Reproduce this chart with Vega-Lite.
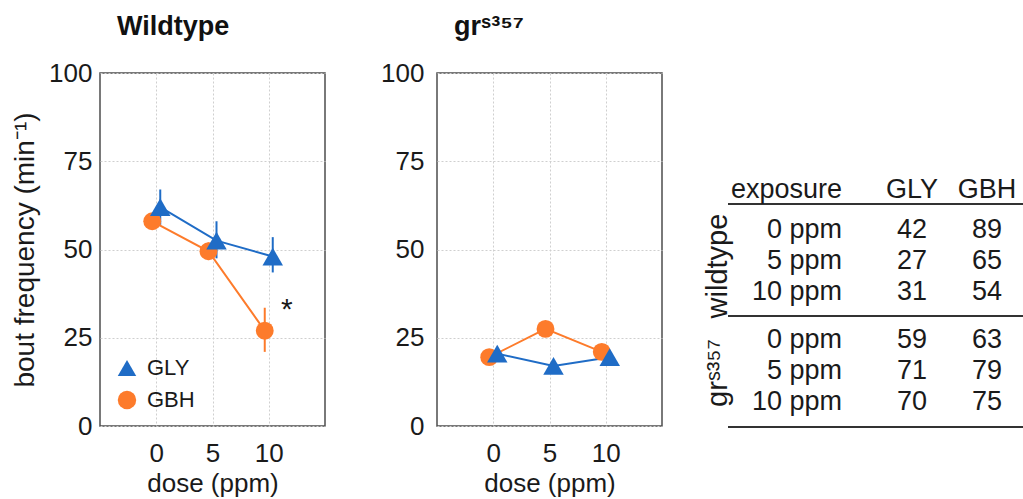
{
  "$schema": "https://vega.github.io/schema/vega-lite/v6.json",
  "padding": {"left": 10, "top": 12, "right": 0, "bottom": 0},
  "background": "white",
  "config": {
    "font": "Liberation Sans",
    "view": {"stroke": "#4d4d4d", "strokeWidth": 1.5},
    "axis": {
      "domain": false, "ticks": false, "grid": true,
      "gridColor": "#cfcfcf", "gridDash": [2, 2], "gridWidth": 1,
      "labelFont": "Liberation Sans", "labelFontSize": 26, "labelColor": "#1a1a1a",
      "titleFont": "Liberation Sans", "titleFontSize": 26, "titleFontWeight": "normal", "titleColor": "#1a1a1a"
    },
    "axisX": {"labelPadding": 14, "titlePadding": 4},
    "title": {"font": "Liberation Sans", "fontSize": 27, "fontWeight": "bold", "color": "#111111", "anchor": "start", "frame": "group", "dx": 17, "offset": 19},
    "legend": {"labelFont": "Liberation Sans", "labelFontSize": 22, "labelColor": "#1a1a1a", "symbolSize": 340, "symbolStrokeWidth": 0, "rowPadding": 10, "labelOffset": 9}
  },
  "datasets": {
    "wt": [
      {"compound": "GLY", "dose": 0, "freq": 62, "lo": 57, "hi": 67},
      {"compound": "GLY", "dose": 5, "freq": 52.5, "lo": 47.5, "hi": 58},
      {"compound": "GLY", "dose": 10, "freq": 48, "lo": 43.5, "hi": 53.5},
      {"compound": "GBH", "dose": 0, "freq": 58, "lo": 56, "hi": 60},
      {"compound": "GBH", "dose": 5, "freq": 49.5, "lo": 47, "hi": 52},
      {"compound": "GBH", "dose": 10, "freq": 27, "lo": 21, "hi": 33.5}
    ],
    "gr": [
      {"compound": "GLY", "dose": 0, "freq": 20.5},
      {"compound": "GLY", "dose": 5, "freq": 17},
      {"compound": "GLY", "dose": 10, "freq": 19.5},
      {"compound": "GBH", "dose": 0, "freq": 19.5},
      {"compound": "GBH", "dose": 5, "freq": 27.5},
      {"compound": "GBH", "dose": 10, "freq": 21}
    ],
    "table": [
      {"row": 0, "col": 1, "label": "exposure"},
      {"row": 0, "col": 2, "label": "GLY"},
      {"row": 0, "col": 3, "label": "GBH"},
      {"row": 1.3, "col": 1, "label": "0 ppm"},
      {"row": 1.3, "col": 2, "label": "42"},
      {"row": 1.3, "col": 3, "label": "89"},
      {"row": 2.3, "col": 1, "label": "5 ppm"},
      {"row": 2.3, "col": 2, "label": "27"},
      {"row": 2.3, "col": 3, "label": "65"},
      {"row": 3.3, "col": 1, "label": "10 ppm"},
      {"row": 3.3, "col": 2, "label": "31"},
      {"row": 3.3, "col": 3, "label": "54"},
      {"row": 4.85, "col": 1, "label": "0 ppm"},
      {"row": 4.85, "col": 2, "label": "59"},
      {"row": 4.85, "col": 3, "label": "63"},
      {"row": 5.85, "col": 1, "label": "5 ppm"},
      {"row": 5.85, "col": 2, "label": "71"},
      {"row": 5.85, "col": 3, "label": "79"},
      {"row": 6.85, "col": 1, "label": "10 ppm"},
      {"row": 6.85, "col": 2, "label": "70"},
      {"row": 6.85, "col": 3, "label": "75"}
    ],
    "groups": [
      {"row": 2.55, "col": 0, "label": "wildtype"},
      {"row": 6.0, "col": 0, "label": "grˢ³⁵⁷"}
    ],
    "lines": [
      {"row": 0.55, "start": 0, "end": 1},
      {"row": 4.16, "start": 0, "end": 1},
      {"row": 7.74, "start": 0, "end": 1}
    ]
  },
  "bounds": "flush",
  "spacing": 112,
  "resolve": {"scale": {"color": "independent", "shape": "independent"}},
  "hconcat": [
    {
      "width": 225,
      "height": 353,
      "title": {"text": "Wildtype"},
      "encoding": {
        "x": {"field": "dose", "type": "quantitative", "scale": {"domain": [-5, 15], "nice": false, "zero": false}, "axis": {"values": [0, 5, 10], "title": "dose (ppm)"}},
        "y": {"field": "freq", "type": "quantitative", "scale": {"domain": [0, 100], "nice": false}, "axis": {"values": [0, 25, 50, 75, 100], "labelPadding": 8, "titlePadding": 9, "titleFontSize": 28}, "title": "bout frequency (min⁻¹)"}
      },
      "layer": [
        {
          "data": {"name": "wt"},
          "transform": [{"filter": "datum.compound === 'GBH'"}],
          "mark": {"type": "rule", "color": "#fd7b2b", "strokeWidth": 2, "xOffset": -4},
          "encoding": {"y": {"field": "lo", "type": "quantitative", "title": "bout frequency (min⁻¹)"}, "y2": {"field": "hi"}}
        },
        {
          "data": {"name": "wt"},
          "transform": [{"filter": "datum.compound === 'GLY'"}],
          "mark": {"type": "rule", "color": "#1f6cc6", "strokeWidth": 2, "xOffset": 4},
          "encoding": {"y": {"field": "lo", "type": "quantitative", "title": "bout frequency (min⁻¹)"}, "y2": {"field": "hi"}}
        },
        {
          "data": {"name": "wt"},
          "transform": [{"filter": "datum.compound === 'GBH'"}],
          "mark": {"type": "line", "color": "#fd7b2b", "strokeWidth": 2, "xOffset": -4},
          "encoding": {}
        },
        {
          "data": {"name": "wt"},
          "transform": [{"filter": "datum.compound === 'GLY'"}],
          "mark": {"type": "line", "color": "#1f6cc6", "strokeWidth": 2, "xOffset": 4},
          "encoding": {}
        },
        {
          "data": {"name": "wt"},
          "transform": [{"filter": "datum.compound === 'GBH'"}],
          "mark": {"type": "point", "filled": true, "opacity": 1, "size": 320, "xOffset": -4},
          "encoding": {
            "color": {"field": "compound", "type": "nominal", "scale": {"domain": ["GLY", "GBH"], "range": ["#1f6cc6", "#fd7b2b"]}, "legend": {"title": null, "orient": "none", "legendX": 16, "legendY": 284}},
            "shape": {"field": "compound", "type": "nominal", "scale": {"domain": ["GLY", "GBH"], "range": ["triangle-up", "circle"]}, "legend": {"title": null, "orient": "none", "legendX": 16, "legendY": 284}}
          }
        },
        {
          "data": {"name": "wt"},
          "transform": [{"filter": "datum.compound === 'GLY'"}],
          "mark": {"type": "point", "filled": true, "opacity": 1, "size": 420, "xOffset": 4},
          "encoding": {
            "color": {"field": "compound", "type": "nominal", "scale": {"domain": ["GLY", "GBH"], "range": ["#1f6cc6", "#fd7b2b"]}, "legend": {"title": null, "orient": "none", "legendX": 16, "legendY": 284}},
            "shape": {"field": "compound", "type": "nominal", "scale": {"domain": ["GLY", "GBH"], "range": ["triangle-up", "circle"]}, "legend": {"title": null, "orient": "none", "legendX": 16, "legendY": 284}}
          }
        },
        {
          "data": {"values": [{"dose": 11.6, "freq": 33, "label": "*"}]},
          "mark": {"type": "text", "fontSize": 30, "color": "#1a1a1a", "align": "center", "baseline": "middle"},
          "encoding": {"text": {"field": "label"}}
        }
      ]
    },
    {
      "width": 225,
      "height": 353,
      "title": {"text": "grˢ³⁵⁷"},
      "data": {"name": "gr"},
      "encoding": {
        "x": {"field": "dose", "type": "quantitative", "scale": {"domain": [-5, 15], "nice": false, "zero": false}, "axis": {"values": [0, 5, 10], "title": "dose (ppm)"}},
        "y": {"field": "freq", "type": "quantitative", "scale": {"domain": [0, 100], "nice": false}, "axis": {"values": [0, 25, 50, 75, 100], "labelPadding": 13, "title": null}}
      },
      "layer": [
        {
          "transform": [{"filter": "datum.compound === 'GBH'"}],
          "mark": {"type": "line", "color": "#fd7b2b", "strokeWidth": 2, "xOffset": -4},
          "encoding": {}
        },
        {
          "transform": [{"filter": "datum.compound === 'GLY'"}],
          "mark": {"type": "line", "color": "#1f6cc6", "strokeWidth": 2, "xOffset": 4},
          "encoding": {}
        },
        {
          "transform": [{"filter": "datum.compound === 'GBH'"}],
          "mark": {"type": "point", "filled": true, "opacity": 1, "size": 320, "shape": "circle", "color": "#fd7b2b", "xOffset": -4},
          "encoding": {}
        },
        {
          "transform": [{"filter": "datum.compound === 'GLY'"}],
          "mark": {"type": "point", "filled": true, "opacity": 1, "size": 420, "shape": "triangle-up", "color": "#1f6cc6", "xOffset": 4},
          "encoding": {}
        }
      ]
    },
    {
      "width": 250,
      "height": 353,
      "view": {"stroke": null},
      "resolve": {"scale": {"x": "independent"}},
      "encoding": {
        "y": {"field": "row", "type": "quantitative", "scale": {"domain": [-3.677, 7.71], "reverse": true, "nice": false, "zero": false}, "axis": null}
      },
      "layer": [
        {
          "data": {"name": "lines"},
          "mark": {"type": "rule", "color": "#333333", "strokeWidth": 2},
          "encoding": {
            "x": {"field": "start", "type": "quantitative", "scale": {"domain": [0, 1], "range": [-46, 250], "nice": false, "zero": false}, "axis": null},
            "x2": {"field": "end"}
          }
        },
        {
          "data": {"name": "table"},
          "transform": [{"filter": "datum.col === 1"}],
          "mark": {"type": "text", "fontSize": 27, "color": "#1a1a1a", "align": "right", "baseline": "middle", "dy": 3},
          "encoding": {
            "x": {"field": "col", "type": "quantitative", "scale": {"domain": [0, 1, 2, 3], "range": [-56, 68, 138, 213], "nice": false, "zero": false}, "axis": null},
            "text": {"field": "label"}
          }
        },
        {
          "data": {"name": "table"},
          "transform": [{"filter": "datum.col !== 1"}],
          "mark": {"type": "text", "fontSize": 27, "color": "#1a1a1a", "align": "center", "baseline": "middle", "dy": 3},
          "encoding": {
            "x": {"field": "col", "type": "quantitative", "scale": {"domain": [0, 1, 2, 3], "range": [-56, 68, 138, 213], "nice": false, "zero": false}, "axis": null},
            "text": {"field": "label"}
          }
        },
        {
          "data": {"name": "groups"},
          "mark": {"type": "text", "fontSize": 29, "color": "#1a1a1a", "align": "center", "baseline": "middle", "angle": 270},
          "encoding": {
            "x": {"field": "col", "type": "quantitative", "scale": {"domain": [0, 1, 2, 3], "range": [-56, 68, 138, 213], "nice": false, "zero": false}, "axis": null},
            "text": {"field": "label"}
          }
        }
      ]
    }
  ]
}
